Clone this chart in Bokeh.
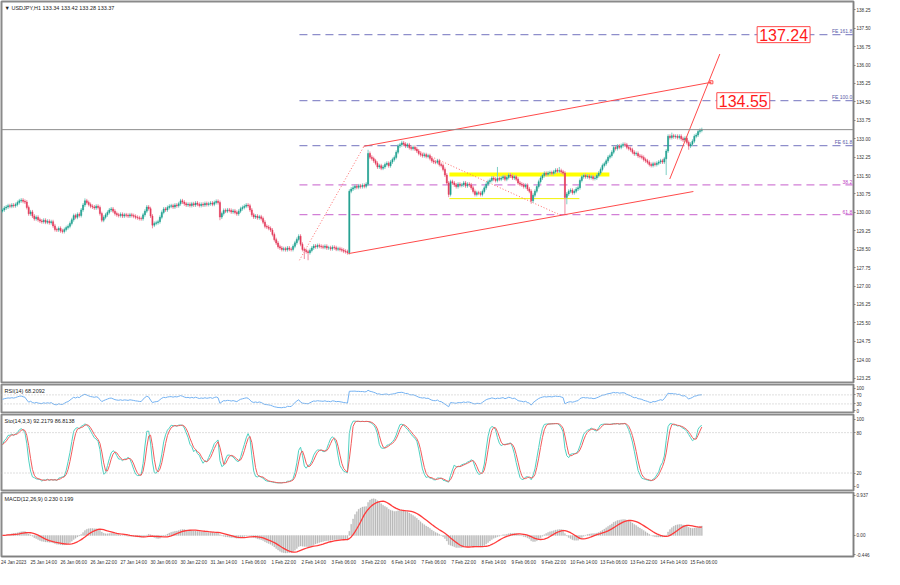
import numpy as np
from bokeh.plotting import figure
from bokeh.layouts import column
from bokeh.models import ColumnDataSource, FixedTicker, Label, Span, Range1d, PrintfTickFormatter
from bokeh.embed import file_html
from bokeh.resources import INLINE

# ---------------- texts ----------------
header_text = "\u25bc USDJPY,H1  133.34 133.42 133.28 133.37"
rsi_header = "RSI(14) 68.2092"
sto_header = "Sto(14,3,3) 92.2179 86.8138"
macd_header = "MACD(12,26,9) 0.230 0.199"

# ---------------- price data (H1 closes) ----------------
first_open = 130.05
closes = [
    130.10, 130.18, 130.22, 130.27, 130.25, 130.30, 130.27, 130.32, 130.40, 130.47,
    130.50, 130.45, 130.42, 130.20, 129.94, 130.02, 129.85, 129.74, 129.80, 129.70,
    129.65, 129.62, 129.68, 129.60, 129.64, 129.58, 129.62, 129.45, 129.30, 129.28,
    129.35, 129.25, 129.22, 129.30, 129.38, 129.43, 129.55, 129.70, 129.87, 129.80,
    129.92, 129.87, 130.10, 130.30, 130.47, 130.40, 130.32, 130.25, 130.22, 130.18,
    130.25, 130.20, 129.95, 129.68, 129.80, 129.90, 130.00, 130.10, 130.14, 130.05,
    129.95, 129.90, 129.87, 129.92, 129.85, 129.90, 129.88, 129.85, 129.90, 129.87,
    129.84, 129.80, 129.78, 129.75, 129.74, 129.90, 130.05, 130.22, 130.15, 129.85,
    129.48, 129.55, 129.58, 129.62, 129.80, 130.00, 130.14, 130.10, 130.20, 130.25,
    130.27, 130.22, 130.30, 130.27, 130.35, 130.47, 130.42, 130.35, 130.30, 130.33,
    130.28, 130.35, 130.30, 130.38, 130.33, 130.28, 130.33, 130.30, 130.36, 130.32,
    130.35, 130.38, 130.33, 130.40, 130.45, 130.40, 129.81, 129.95, 130.08, 130.05,
    130.10, 130.08, 130.02, 130.06, 130.00, 129.94, 130.05, 130.15, 130.20, 130.25,
    130.30, 130.27, 130.10, 129.90, 129.81, 129.85, 129.78, 129.82, 129.75, 129.60,
    129.43, 129.40, 129.35, 129.28, 129.10, 128.89, 128.75, 128.60, 128.55, 128.49,
    128.52, 128.48, 128.55, 128.50, 128.49, 128.62, 128.76, 128.90, 129.03, 128.70,
    128.49, 128.45, 128.40, 128.36, 128.45, 128.55, 128.63, 128.60, 128.65, 128.62,
    128.60, 128.58, 128.62, 128.55, 128.56, 128.52, 128.58, 128.56, 128.50, 128.52,
    128.49, 128.46, 128.42, 128.40, 128.36, 130.86, 130.95, 131.00, 131.06, 131.02,
    131.08, 131.05, 131.10, 131.06, 131.15, 132.40, 132.25, 132.19, 132.10, 132.00,
    131.85, 131.90, 131.80, 131.85, 131.95, 132.00, 131.90, 132.05, 132.15, 132.24,
    132.45, 132.70, 132.75, 132.83, 132.78, 132.70, 132.75, 132.64, 132.60, 132.65,
    132.58, 132.50, 132.40, 132.35, 132.31, 132.35, 132.28, 132.31, 132.20, 132.10,
    132.05, 132.04, 132.10, 131.95, 131.91, 131.75, 131.52, 131.20, 130.73, 131.25,
    131.20, 131.12, 131.05, 131.15, 131.10, 131.12, 131.20, 131.08, 131.15, 131.12,
    131.00, 130.85, 130.73, 130.80, 130.78, 130.73, 130.85, 131.00, 131.15, 131.25,
    131.30, 131.40, 131.35, 131.30, 131.38, 131.35, 131.40, 131.45, 131.35, 131.42,
    131.52, 131.48, 131.40, 131.45, 131.35, 131.20, 131.15, 131.12, 131.05, 131.10,
    130.95, 130.86, 130.47, 130.70, 130.86, 131.05, 131.25, 131.40, 131.50, 131.59,
    131.55, 131.60, 131.62, 131.59, 131.65, 131.72, 131.68, 131.70, 131.65, 131.60,
    130.61, 130.75, 130.86, 130.90, 130.80, 130.86, 130.95, 131.00, 131.30, 131.45,
    131.50, 131.45, 131.48, 131.42, 131.45, 131.38, 131.40, 131.50, 131.60, 131.75,
    131.91, 131.98, 132.10, 132.25, 132.31, 132.45, 132.64, 132.60, 132.70, 132.65,
    132.72, 132.77, 132.75, 132.65, 132.60, 132.55, 132.45, 132.38, 132.40, 132.30,
    132.28, 132.24, 132.15, 132.10, 132.04, 131.95, 131.91, 131.98, 131.95, 132.00,
    132.05, 132.10, 132.05, 132.18, 132.50, 133.10, 133.05, 133.12, 133.08, 133.10,
    133.05, 133.10, 133.00, 132.95, 133.02, 132.85, 132.70, 132.78, 132.90, 133.10,
    133.15, 133.29, 133.34, 133.37,
]
# notable wicks (bar index -> price)
wick_high = {44: 130.57, 158: 129.10, 195: 132.55, 213: 132.92, 264: 131.85, 297: 131.85, 357: 133.25}
wick_low = {80: 129.35, 116: 129.68, 161: 128.10, 163: 128.05, 185: 128.30, 238: 130.62,
            282: 130.35, 300: 129.91, 301: 130.33, 354: 131.52, 366: 132.55}
wick_len = 0.08

# ---------------- axis ticks / labels ----------------
price_ticks = [123.25, 124.00, 124.75, 125.50, 126.25, 127.00, 127.75, 128.50, 129.25, 130.00,
               130.75, 131.50, 132.25, 133.00, 133.75, 134.50, 135.25, 136.00, 136.75, 137.50, 138.25]
rsi_ticks = [0, 30, 70, 100]
sto_ticks = [0, 20, 80, 100]
macd_ticks = [-0.446, 0.0, 0.937]
macd_tick_labels = ["-0.446", "0.00", "0.937"]
time_tick_bars = [0, 16, 32, 48, 64, 80, 96, 112, 128, 144, 160, 176, 192, 208, 224, 240,
                  256, 272, 288, 304, 320, 336, 352, 368]
time_tick_labels = ["24 Jan 2023", "25 Jan 14:00", "26 Jan 06:00", "26 Jan 22:00", "27 Jan 14:00",
                    "30 Jan 06:00", "30 Jan 22:00", "31 Jan 14:00", "1 Feb 06:00", "1 Feb 22:00",
                    "2 Feb 14:00", "3 Feb 06:00", "3 Feb 22:00", "6 Feb 14:00", "7 Feb 06:00",
                    "7 Feb 22:00", "8 Feb 14:00", "9 Feb 06:00", "9 Feb 22:00", "10 Feb 14:00",
                    "13 Feb 06:00", "13 Feb 22:00", "14 Feb 14:00", "15 Feb 06:00"]

# ---------------- drawing objects (bar index, price) ----------------
last_price = 133.37
fe_levels = [132.72, 134.55, 137.24]
fe_names = ["FE 61.8", "FE 100.0", "FE 161.8"]
fib_levels = [131.12, 129.91]
fib_names = ["38.2", "61.8"]
levels_start_bar = 158.4
trend_x0 = [184.5, 192.6, 355.9]
trend_y0 = [128.32, 132.69, 131.36]
trend_x1 = [368.5, 378.1, 382.6]
trend_y1 = [130.85, 135.30, 136.45]
dotted_x0 = [158.4, 212.8]
dotted_y0 = [128.05, 132.82]
dotted_x1 = [193.1, 298.1]
dotted_y1 = [132.73, 129.87]
zone_top_price = 131.54
zone_top_bars = [238.4, 323.7]
zone_low_price = 130.56
zone_low_bars = [238.4, 307.7]
target_texts = ["134.55", "137.24"]
target_prices = [134.55, 137.24]
target_bars = [381.0, 402.5]

# ---------------- derived candle arrays ----------------
n = len(closes)
c = np.array(closes)
o = np.array([first_open] + closes[:-1])
hi = np.maximum(o, c) + wick_len
lo = np.minimum(o, c) - wick_len
for k, v in wick_high.items():
    hi[k] = max(hi[k], v)
for k, v in wick_low.items():
    lo[k] = min(lo[k], v)
xs = np.arange(n)
up = c >= o
UP, DOWN = "#1f9e8e", "#e23b5a"
UPW, DOWNW = "#7fcfc4", "#f08aa0"
cols = [UP if u else DOWN for u in up]
wcols = [UPW if u else DOWNW for u in up]

# ---------------- indicators (standard formulas on the data above) ----------------
def ema(x, p):
    a = 2.0 / (p + 1)
    out = np.empty_like(x)
    out[0] = x[0]
    for i in range(1, len(x)):
        out[i] = a * x[i] + (1 - a) * out[i - 1]
    return out

def sma(x, p):
    out = np.empty_like(x)
    for i in range(len(x)):
        out[i] = np.mean(x[max(0, i - p + 1): i + 1])
    return out

macd = ema(c, 12) - ema(c, 26)
signal = sma(macd, 9)

d = np.diff(c, prepend=c[0])
ag, al = 0.05, 0.05
rsi = np.empty(n)
for i in range(n):
    g = max(d[i], 0.0)
    l = max(-d[i], 0.0)
    ag = (ag * 13 + g) / 14
    al = (al * 13 + l) / 14
    rsi[i] = 100 * ag / (ag + al)

num = np.empty(n)
den = np.empty(n)
for i in range(n):
    hh = hi[max(0, i - 13): i + 1].max()
    ll = lo[max(0, i - 13): i + 1].min()
    num[i] = c[i] - ll
    den[i] = hh - ll
stoK = np.empty(n)
for i in range(n):
    s0 = max(0, i - 2)
    stoK[i] = 100 * num[s0:i + 1].sum() / den[s0:i + 1].sum()
stoD = sma(stoK, 3)

# ---------------- figures ----------------
FW = 852
FONT = "Liberation Sans"
BIGFONT = "'Liberation Sans Narrow', 'Liberation Sans', sans-serif"
xr = Range1d(-0.5, 453.9)

def style_axis(ax, fs):
    ax.axis_label = None
    ax.axis_line_color = "#808080"
    ax.minor_tick_line_color = None
    ax.minor_tick_out = 0
    ax.minor_tick_in = 0
    ax.major_label_text_font_size = fs
    ax.major_label_text_font = FONT
    ax.major_label_text_color = "#333333"

def make_fig(fh, yr, ticks, top=1, bottom=1, xaxis=False):
    p = figure(frame_width=FW, frame_height=fh, x_range=xr, y_range=yr, output_backend="svg",
               toolbar_location=None, y_axis_location="right",
               x_axis_location="below" if xaxis else None,
               min_border_left=1, min_border_right=4, min_border_top=top, min_border_bottom=bottom)
    p.grid.visible = False
    p.outline_line_color = "#8a8a8a"
    p.outline_line_width = 2
    p.background_fill_color = "white"
    p.border_fill_color = "white"
    ax = p.yaxis[0]
    ax.ticker = FixedTicker(ticks=ticks)
    style_axis(ax, "4.6px")
    ax.major_tick_line_color = "#808080"
    ax.major_tick_out = 2
    ax.major_tick_in = 0
    ax.major_label_standoff = 1
    return p

def header(p, txt, fh):
    p.add_layout(Label(x=3, y=fh - 3, x_units="screen", y_units="screen", text=txt,
                       text_font_size="5.5px", text_font=FONT, text_color="#222222",
                       text_baseline="top", text_align="left"))

# ---- main price pane ----
F_MAIN, F_RSI, F_STO, F_MACD = 381, 28, 76, 64
pm = make_fig(F_MAIN, Range1d(123.07, 138.59), price_ticks)
pm.yaxis[0].formatter = PrintfTickFormatter(format="%.2f")

pm.add_layout(Span(location=last_price, dimension="width", line_color="#8c8c8c", line_width=1))

lv = ColumnDataSource(dict(x0=[levels_start_bar] * 3, x1=[453.9] * 3, y=fe_levels))
pm.segment(x0="x0", y0="y", x1="x1", y1="y", source=lv, line_color="#8e8ecb",
           line_width=1.2, line_dash="8 5")
fb = ColumnDataSource(dict(x0=[levels_start_bar] * 2, x1=[453.9] * 2, y=fib_levels))
pm.segment(x0="x0", y0="y", x1="x1", y1="y", source=fb, line_color="#d27fd6",
           line_width=1.2, line_dash="8 5")

pm.segment(x0=[zone_top_bars[0]], y0=[zone_top_price], x1=[zone_top_bars[1]], y1=[zone_top_price],
           line_color="#ffff00", line_width=4)
pm.segment(x0=[zone_low_bars[0]], y0=[zone_low_price], x1=[zone_low_bars[1]], y1=[zone_low_price],
           line_color="#f2f200", line_width=1)

pm.segment(x0=dotted_x0, y0=dotted_y0, x1=dotted_x1, y1=dotted_y1, line_color="#ff6a6a",
           line_width=1, line_dash="1 2")

cs = ColumnDataSource(dict(x=xs, o=o, c=c, hi=hi, lo=lo, top=np.maximum(o, c), bot=np.minimum(o, c),
                           col=cols, wcol=wcols))
pm.segment(x0="x", y0="lo", x1="x", y1="hi", source=cs, line_color="wcol", line_width=1)
pm.vbar(x="x", width=0.6, top="top", bottom="bot", source=cs, fill_color="col", line_color="col",
        line_width=0.5)

pm.segment(x0=trend_x0, y0=trend_y0, x1=trend_x1, y1=trend_y1, line_color="#ff4a4a", line_width=1)
pm.scatter(x=[trend_x1[1]], y=[trend_y1[1]], marker="square", size=3, fill_color=None,
           line_color="#ff4a4a")

for txt, pr, bx in zip(target_texts, target_prices, target_bars):
    pm.add_layout(Label(x=bx, y=pr, text=txt, text_color="#ff1a1a", text_font_size="16px",
                        text_font=BIGFONT,
                        text_align="left", text_baseline="middle",
                        background_fill_color="white", border_line_color="#ff4a4a",
                        border_line_width=1, padding=2))
for txt, pr in zip(fe_names, fe_levels):
    pm.add_layout(Label(x=453.2, y=pr, text=txt, text_color="#5a5aa8", text_font_size="5px",
                        text_font=FONT, text_align="right", text_baseline="bottom", y_offset=1))
for txt, pr in zip(fib_names, fib_levels):
    pm.add_layout(Label(x=453.2, y=pr, text=txt, text_color="#c040c4", text_font_size="5px",
                        text_font=FONT, text_align="right", text_baseline="bottom", y_offset=1))
pm.add_layout(Label(x=454.3, y=last_price, text="133.37", text_color="white", text_font_size="4.6px",
                    text_font=FONT, text_align="left", text_baseline="middle",
                    background_fill_color="black", padding=1))
header(pm, header_text, F_MAIN)

# ---- RSI pane ----
pr_ = make_fig(F_RSI, Range1d(-8, 116), rsi_ticks)
for lvl in (70, 30):
    pr_.add_layout(Span(location=lvl, dimension="width", line_color="#bdbdbd", line_width=1,
                        line_dash="1 2"))
pr_.line(xs, rsi, line_color="#74b2f2", line_width=1)
header(pr_, rsi_header, F_RSI)

# ---- Stochastic pane ----
ps = make_fig(F_STO, Range1d(-6, 107), sto_ticks)
for lvl in (80, 20):
    ps.add_layout(Span(location=lvl, dimension="width", line_color="#bdbdbd", line_width=1,
                       line_dash="1 2"))
ps.line(xs, stoK, line_color="#4fd1c2", line_width=1)
ps.line(xs, stoD, line_color="#f25c5c", line_width=1)
header(ps, sto_header, F_STO)

# ---- MACD pane ----
pmc = make_fig(F_MACD, Range1d(-0.49, 1.0), macd_ticks, top=1, bottom=4, xaxis=True)
pmc.yaxis[0].major_label_overrides = {t: s for t, s in zip(macd_ticks, macd_tick_labels)}
pmc.vbar(x=xs, width=0.55, top=macd, bottom=0, fill_color="#b8b8b8", line_color="#b8b8b8",
         line_width=0.3)
pmc.line(xs, signal, line_color="#ff3a3a", line_width=1.3)
header(pmc, macd_header, F_MACD)

xa = pmc.xaxis[0]
shift = 6
xa.ticker = FixedTicker(ticks=[b + shift for b in time_tick_bars])
xa.major_label_overrides = {b + shift: s for b, s in zip(time_tick_bars, time_tick_labels)}
style_axis(xa, "4.6px")
xa.major_tick_line_color = None
xa.major_tick_out = 0
xa.major_tick_in = 0
xa.major_label_standoff = 3

layout = column(pm, pr_, ps, pmc, spacing=0)
open("out.html", "w").write(file_html(layout, INLINE))
